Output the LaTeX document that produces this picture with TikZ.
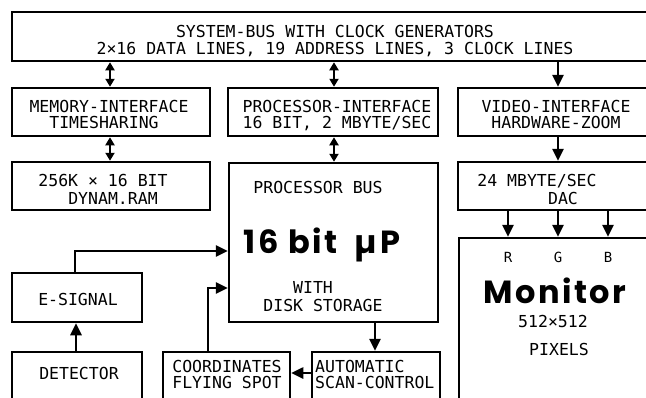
\documentclass[tikz,border=0pt]{standalone}
\usepackage{fontspec}
\setmainfont{DejaVu Sans Mono}
\newfontfamily\geo{Poppins}[LetterSpace=8]
\usetikzlibrary{arrows.meta}
\begin{document}
\begin{tikzpicture}[x=1pt,y=-1pt,
  box/.style={draw, line width=2.5pt, inner sep=0pt},
  txt/.style={inner sep=0pt, anchor=base, text height=12pt, text depth=0pt, font=\fontsize{16.5}{16}\selectfont},
  ltxt/.style={txt, anchor=base west},
  small/.style={inner sep=0pt, anchor=base, text height=11pt, text depth=0pt, font=\fontsize{16.5}{16}\selectfont},
  tiny/.style={inner sep=0pt, anchor=base, font=\fontsize{14}{14}\selectfont},
  big/.style={inner sep=0pt, anchor=base, font=\geo\bfseries\fontsize{32}{32}\selectfont},
  one/.style={line width=2.5pt, -{Triangle[length=12pt,width=11pt]}},
  two/.style={line width=2.5pt, {Triangle[length=8pt,width=9pt]}-{Triangle[length=8pt,width=9pt]}},
]
\useasboundingbox (0,0) rectangle (646,397);
\clip (0,0) rectangle (646,397);

% boxes
\node[box, minimum width=638pt, minimum height=49pt] (bus) at (331,36.5) {};
\node[box, minimum width=198pt, minimum height=48pt] (memif) at (111,112) {};
\node[box, minimum width=210pt, minimum height=48pt] (procif) at (333,112) {};
\node[box, minimum width=192pt, minimum height=48pt] (videoif) at (554,112) {};
\node[box, minimum width=198pt, minimum height=48pt] (ram) at (111,186) {};
\node[box, minimum width=209pt, minimum height=159pt] (proc) at (333.5,242.5) {};
\node[box, minimum width=192pt, minimum height=48pt] (dac) at (554,186) {};
\node[box, minimum width=191pt, minimum height=162pt] (mon) at (554.5,319) {};
\node[box, minimum width=130pt, minimum height=49pt] (esig) at (77,297.5) {};
\node[box, minimum width=130pt, minimum height=48pt] (det) at (77,376) {};
\node[box, minimum width=127pt, minimum height=48pt] (coord) at (226.5,376) {};
\node[box, minimum width=128pt, minimum height=48pt] (scan) at (376,376) {};

% texts
\node[txt] (t1) at (335,37) {SYSTEM-BUS WITH CLOCK GENERATORS};
\node[txt] (t2) at (335,54) {2×16 DATA LINES, 19 ADDRESS LINES, 3 CLOCK LINES};
\node[txt] (t3) at (109,112) {MEMORY-INTERFACE};
\node[txt] (t4) at (104,128) {TIMESHARING};
\node[txt] (t5) at (337,112) {PROCESSOR-INTERFACE};
\node[txt] (t6) at (337,128) {16 BIT, 2 MBYTE/SEC};
\node[txt] (t7) at (556,112) {VIDEO-INTERFACE};
\node[txt] (t8) at (556,128) {HARDWARE-ZOOM};
\node[txt] (t9) at (103,186) {256K × 16 BIT};
\node[txt] (t10) at (113,204) {DYNAM.RAM};
\node[txt] (t11) at (537,186) {24 MBYTE/SEC};
\node[txt] (t12) at (563,204) {DAC};
\node[txt] (t13) at (318,193) {PROCESSOR BUS};
\node[big] (t14) at (322,253) {16 bit\hspace{8pt} µP};
\node[txt] (t15) at (313,293) {WITH};
\node[txt] (t16) at (323,311) {DISK STORAGE};
\node[tiny] (tr) at (508,262) {R};
\node[tiny] (tg) at (558,262) {G};
\node[tiny] (tb) at (608,262) {B};
\node[big] (t17) at (555,303) {Monitor};
\node[small] (t18) at (553,327) {512×512};
\node[small] (t19) at (559,355) {PIXELS};
\node[txt] (t20) at (78,305) {E-SIGNAL};
\node[txt] (t21) at (79,379) {DETECTOR};
\node[txt] (t22) at (227,372) {COORDINATES};
\node[txt] (t23) at (227,388) {FLYING SPOT};
\node[ltxt] (t24) at (315,372) {AUTOMATIC};
\node[ltxt] (t25) at (315,388) {SCAN-CONTROL};

% helper coordinates
\coordinate (xm) at (110,0);
\coordinate (xp) at (334,0);
\coordinate (xv) at (558,0);
\coordinate (xr) at (508,0);
\coordinate (xb) at (608,0);
\coordinate (xe) at (75,0);
\coordinate (xd) at (76,0);
\coordinate (xc) at (208,0);
\coordinate (xs) at (375,0);
\coordinate (ye) at (0,251);
\coordinate (yc) at (0,288);
\coordinate (ys) at (0,373);

% connectors
\draw[two] (bus.south -| xm) -- (memif.north -| xm);
\draw[two] (bus.south -| xp) -- (procif.north -| xp);
\draw[one] (bus.south -| xv) -- (videoif.north -| xv);
\draw[two] (memif.south -| xm) -- (ram.north -| xm);
\draw[two] (procif.south -| xp) -- (proc.north -| xp);
\draw[one] (videoif.south -| xv) -- (dac.north -| xv);
\draw[one] (dac.south -| xr) -- (mon.north -| xr);
\draw[one] (dac.south -| xv) -- (mon.north -| xv);
\draw[one] (dac.south -| xb) -- (mon.north -| xb);
\draw[one] (det.north -| xd) -- (esig.south -| xd);
\draw[one] (esig.north -| xe) |- (proc.west |- ye);
\draw[one] (coord.north -| xc) |- (proc.west |- yc);
\draw[one] (proc.south -| xs) -- (scan.north -| xs);
\draw[one] (scan.west |- ys) -- (coord.east |- ys);
\end{tikzpicture}
\end{document}
